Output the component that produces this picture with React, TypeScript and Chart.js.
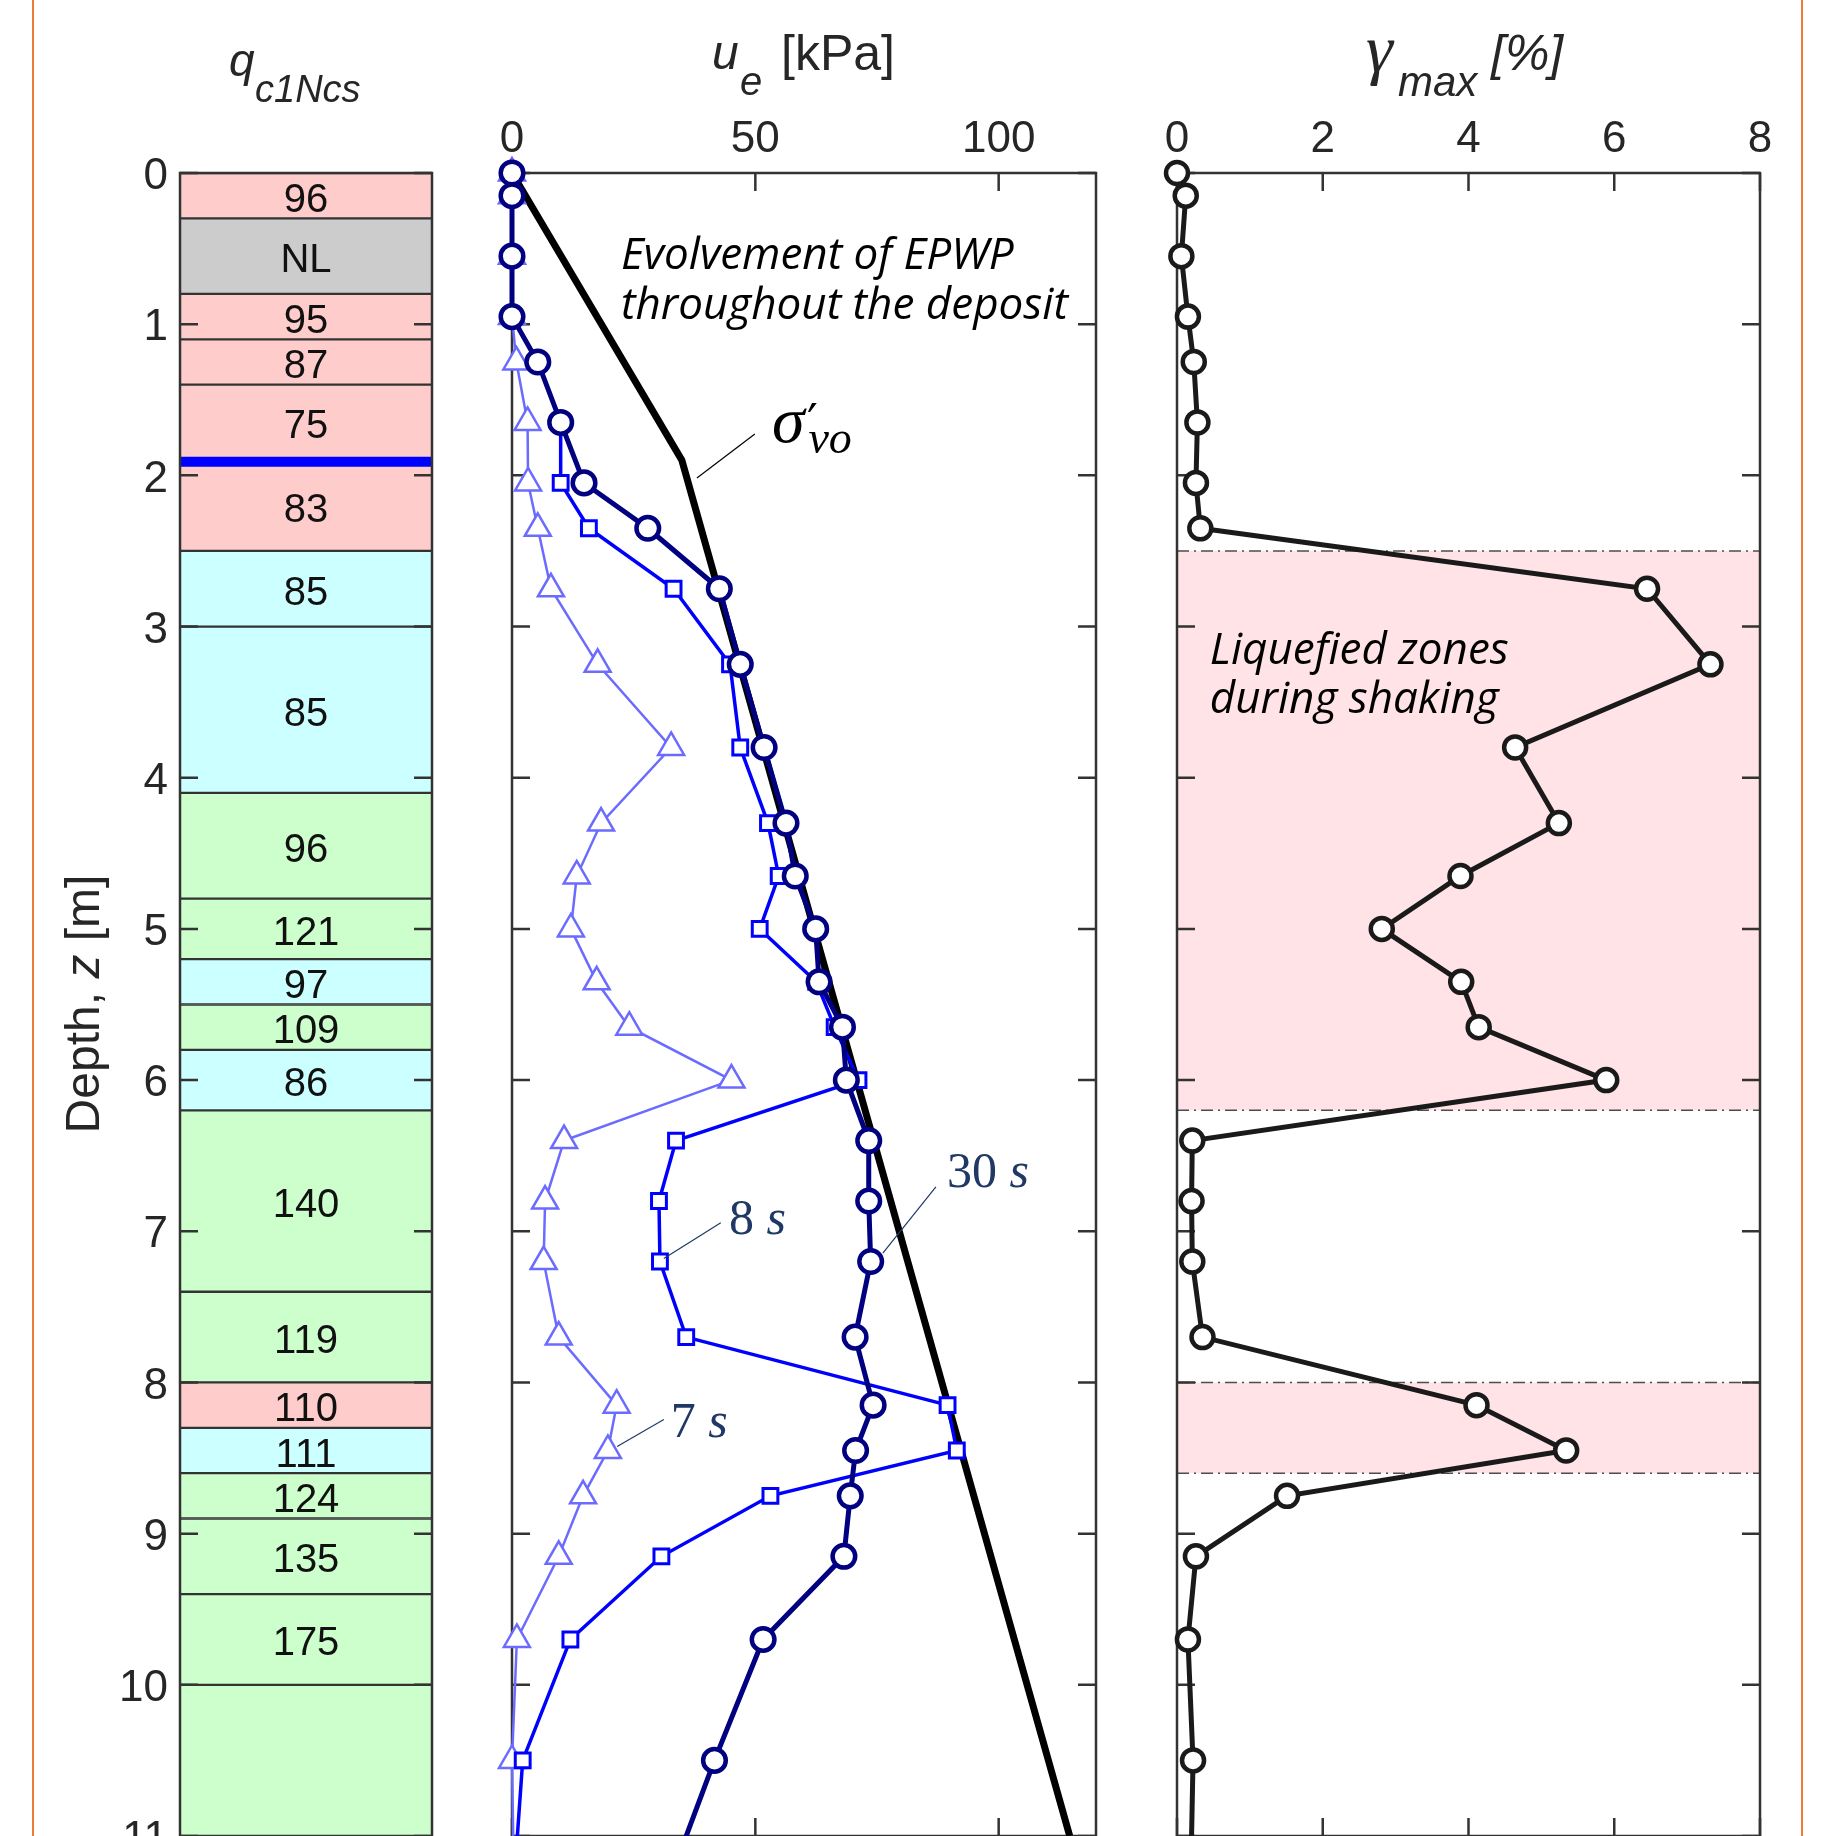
import React, { useEffect, useRef } from 'react';
import { Chart, registerables } from 'chart.js';

Chart.register(...registerables);

// ---------------- data ----------------
const DEPTH_TICKS = [0, 1, 2, 3, 4, 5, 6, 7, 8, 9, 10, 11];
const UE_TICKS = [0, 50, 100];
const GAMMA_TICKS = [0, 2, 4, 6, 8];

// soil column (q_c1Ncs)
const LAYER_TOP = [0, 0.3, 0.8, 1.1, 1.4, 1.9, 2.5, 3.0, 4.1, 4.8, 5.2, 5.5, 5.8, 6.2, 7.4, 8.0, 8.3, 8.6, 8.9, 9.4, 10.0];
const LAYER_BOTTOM = [0.3, 0.8, 1.1, 1.4, 1.9, 2.5, 3.0, 4.1, 4.8, 5.2, 5.5, 5.8, 6.2, 7.4, 8.0, 8.3, 8.6, 8.9, 9.4, 10.0, 11.5];
const LAYER_QC = ['96', 'NL', '95', '87', '75', '83', '85', '85', '96', '121', '97', '109', '86', '140', '119', '110', '111', '124', '135', '175', ''];
const LAYER_CLASS = ['P', 'G', 'P', 'P', 'P', 'P', 'C', 'C', 'V', 'V', 'C', 'V', 'C', 'V', 'V', 'P', 'C', 'V', 'V', 'V', 'V'];
const WATER_TABLE = 1.91;

// sensors
const SENSOR_DEPTH = [0, 0.15, 0.55, 0.95, 1.25, 1.65, 2.05, 2.35, 2.75, 3.25, 3.8, 4.3, 4.65, 5.0, 5.35, 5.65, 6.0, 6.4, 6.8, 7.2, 7.7, 8.15, 8.45, 8.75, 9.15, 9.7, 10.5, 11.5];
const UE_7S = [0, 0, 0, 0, 0.9, 3.2, 3.3, 5.3, 8.0, 17.6, 32.7, 18.3, 13.3, 12.1, 17.4, 24.1, 45.1, 10.7, 6.8, 6.5, 9.6, 21.5, 19.7, 14.6, 9.6, 1.0, 0, 0.5];
const UE_8S = [0, 0, 0, 0, 5.3, 10.0, 10.0, 15.8, 33.2, 44.8, 46.9, 52.6, 54.8, 50.9, 62.5, 66.3, 71.2, 33.7, 30.2, 30.4, 35.8, 89.5, 91.4, 53.1, 30.7, 12.0, 2.2, 0];
const UE_30S = [0, 0, 0, 0, 5.3, 10.0, 14.8, 27.9, 42.6, 46.9, 51.8, 56.3, 58.2, 62.4, 63.1, 67.9, 68.7, 73.3, 73.3, 73.7, 70.5, 74.2, 70.6, 69.5, 68.2, 51.6, 41.6, 30.0];
const SIGMA_DEPTH = [0, 1.9, 11];
const SIGMA_VO = [0, 34.9, 114.6];
const GAMMA_MAX = [0, 0.12, 0.06, 0.15, 0.23, 0.28, 0.26, 0.32, 6.45, 7.32, 4.64, 5.24, 3.89, 2.81, 3.9, 4.14, 5.89, 0.21, 0.2, 0.21, 0.35, 4.11, 5.34, 1.51, 0.26, 0.15, 0.22, 0.18];
const LIQ_TOP = [2.5, 8.0];
const LIQ_BOTTOM = [6.2, 8.6];

// ---------------- styles ----------------
const W = 1829;
const H = 1836;
const CLASS_COLOR: Record<string, string> = { P: '#FFCCCC', G: '#CCCCCC', C: '#CCFFFF', V: '#CCFFCC' };
const AXIS = '#333333';
const TXT = '#262626';
const NAVY_TXT = '#1F3864';
const ORANGE = '#ED7D31';
const TICK = 18;
const SANS = "'Liberation Sans', Arial, sans-serif";
const SERIF = "'Liberation Serif', 'Times New Roman', serif";
const OPEN = "'Open Sans', 'Noto Sans', sans-serif";
const TICK_FONT = { family: SANS, size: 44 };

Chart.defaults.font.family = SANS;

const A_OFF = 0;
const B_OFF = 440;
const C_OFF = 1140;
const A_W = 460;
const B_W = 700;
const C_W = W - C_OFF;

function drawFrame(chart: any, xTicks: number[] | null, yTicks: number[]) {
  const { ctx, chartArea: a, scales } = chart;
  ctx.save();
  ctx.strokeStyle = AXIS;
  ctx.lineWidth = 2.5;
  ctx.setLineDash([]);
  ctx.beginPath();
  for (const v of yTicks) {
    const p = scales.y.getPixelForValue(v);
    ctx.moveTo(a.left, p);
    ctx.lineTo(a.left + TICK, p);
    ctx.moveTo(a.right, p);
    ctx.lineTo(a.right - TICK, p);
  }
  if (xTicks) {
    for (const v of xTicks) {
      const p = scales.x.getPixelForValue(v);
      ctx.moveTo(p, a.top);
      ctx.lineTo(p, a.top + TICK);
      ctx.moveTo(p, a.bottom);
      ctx.lineTo(p, a.bottom - TICK);
    }
  }
  ctx.stroke();
  ctx.strokeRect(a.left, a.top, a.right - a.left, a.bottom - a.top);
  ctx.restore();
}

type Seg = { t: string; font: string; x: number; y: number; color?: string };
function drawSegs(ctx: CanvasRenderingContext2D, segs: Seg[]) {
  ctx.save();
  ctx.textAlign = 'left';
  ctx.textBaseline = 'alphabetic';
  for (const s of segs) {
    ctx.font = s.font;
    ctx.fillStyle = s.color || TXT;
    ctx.fillText(s.t, s.x, s.y);
  }
  ctx.restore();
}

function orangeLine(ctx: CanvasRenderingContext2D, x: number) {
  ctx.save();
  ctx.strokeStyle = ORANGE;
  ctx.lineWidth = 2;
  ctx.beginPath();
  ctx.moveTo(x, 0);
  ctx.lineTo(x, H);
  ctx.stroke();
  ctx.restore();
}

const baseOptions = {
  responsive: false,
  animation: false as const,
  devicePixelRatio: 1,
  events: [] as any[],
  plugins: { legend: { display: false }, tooltip: { enabled: false } },
};

const depthTicks = (scale: any) => {
  scale.ticks = DEPTH_TICKS.map((v) => ({ value: v }));
};
const noPad = (s: any) => {
  s.paddingTop = 0;
  s.paddingBottom = 0;
  s.paddingLeft = 0;
  s.paddingRight = 0;
};

function makeColumn(canvas: HTMLCanvasElement) {
  const plugin = {
    id: 'column',
    afterDatasetsDraw(chart: any) {
      const { ctx, chartArea: a, scales } = chart;
      // water table
      const wy = scales.y.getPixelForValue(WATER_TABLE);
      ctx.save();
      ctx.fillStyle = '#0000FF';
      ctx.fillRect(a.left, wy - 5, a.right - a.left, 10);
      // layer labels
      ctx.font = `40px ${SANS}`;
      ctx.fillStyle = '#111111';
      ctx.textAlign = 'center';
      ctx.textBaseline = 'middle';
      const cx = (a.left + a.right) / 2;
      LAYER_QC.forEach((lab, i) => {
        if (!lab) return;
        const y = (scales.y.getPixelForValue(LAYER_TOP[i]) + scales.y.getPixelForValue(LAYER_BOTTOM[i])) / 2 + 5;
        ctx.fillText(lab, cx, y);
      });
      ctx.restore();
      drawFrame(chart, null, DEPTH_TICKS);
    },
    afterDraw(chart: any) {
      const { ctx } = chart;
      drawSegs(ctx, [
        { t: 'q', font: `italic 46px ${SANS}`, x: 229 - A_OFF, y: 76 },
        { t: 'c1Ncs', font: `italic 38px ${SANS}`, x: 255 - A_OFF, y: 102 },
      ]);
      // depth label (rotated)
      ctx.save();
      ctx.translate(99 - A_OFF, 1004);
      ctx.rotate(-Math.PI / 2);
      ctx.textBaseline = 'alphabetic';
      ctx.fillStyle = TXT;
      const parts = [
        { t: 'Depth, ', f: `48px ${SANS}` },
        { t: 'z', f: `italic 48px ${SANS}` },
        { t: ' [m]', f: `48px ${SANS}` },
      ];
      let total = 0;
      for (const p of parts) {
        ctx.font = p.f;
        total += ctx.measureText(p.t).width;
      }
      let x = -total / 2;
      for (const p of parts) {
        ctx.font = p.f;
        ctx.fillText(p.t, x, 0);
        x += ctx.measureText(p.t).width;
      }
      ctx.restore();
      orangeLine(ctx, 33 - A_OFF);
    },
  };

  return new Chart(canvas, {
    type: 'bar',
    data: {
      labels: ['q'],
      datasets: [
        {
          data: LAYER_TOP.map((t, i) => ({ x: 'q', y: [t, LAYER_BOTTOM[i]] })) as any,
          backgroundColor: LAYER_CLASS.map((c) => CLASS_COLOR[c]),
          borderColor: '#333333',
          borderWidth: { top: 1.5, bottom: 1.5, left: 0, right: 0 },
          borderSkipped: false,
          barPercentage: 1,
          categoryPercentage: 1,
        },
      ],
    },
    options: {
      ...baseOptions,
      layout: { autoPadding: false, padding: { left: 0, right: A_W - 432, top: 173, bottom: 0 } },
      scales: {
        x: { type: 'category', display: false },
        y: {
          type: 'linear',
          position: 'left',
          min: 0,
          max: 11,
          reverse: true,
          afterBuildTicks: depthTicks,
          afterFit: (s: any) => {
            s.width = 180;
            noPad(s);
          },
          grid: { display: false, drawTicks: false },
          border: { display: false },
          ticks: { font: TICK_FONT, color: TXT, padding: 12, labelOffset: 4, autoSkip: false },
        },
      },
    } as any,
    plugins: [plugin],
  });
}

function makeEpwp(canvas: HTMLCanvasElement) {
  const plugin = {
    id: 'epwp',
    beforeDatasetsDraw(chart: any) {
      drawFrame(chart, UE_TICKS, DEPTH_TICKS);
    },
    afterDatasetsDraw(chart: any) {
      const { ctx, scales } = chart;
      const X = (v: number) => scales.x.getPixelForValue(v);
      const Y = (v: number) => scales.y.getPixelForValue(v);
      drawSegs(ctx, [
        { t: 'Evolvement of EPWP', font: `italic 44px ${OPEN}`, x: X(22.4), y: Y(0.635), color: '#000' },
        { t: 'throughout the deposit', font: `italic 44px ${OPEN}`, x: X(22.4), y: Y(0.965), color: '#000' },
        { t: 'σ', font: `italic 66px ${SERIF}`, x: X(53.4), y: Y(1.779), color: '#000' },
        { t: '′', font: `48px 'DejaVu Serif', serif`, x: X(60.6), y: Y(1.76), color: '#000' },
        { t: 'vo', font: `italic 46px ${SERIF}`, x: X(60.9), y: Y(1.852), color: '#000' },
        { t: '30 ', font: `50px ${SERIF}`, x: X(89.4), y: Y(6.707), color: NAVY_TXT },
        { t: '8 ', font: `50px ${SERIF}`, x: X(44.6), y: Y(7.018), color: NAVY_TXT },
        { t: '7 ', font: `50px ${SERIF}`, x: X(32.6), y: Y(8.36), color: NAVY_TXT },
      ]);
      ctx.save();
      ctx.font = `50px ${SERIF}`;
      const w30 = ctx.measureText('30 ').width;
      const w8 = ctx.measureText('8 ').width;
      ctx.restore();
      drawSegs(ctx, [
        { t: 's', font: `italic 50px ${SERIF}`, x: X(89.4) + w30, y: Y(6.707), color: NAVY_TXT },
        { t: 's', font: `italic 50px ${SERIF}`, x: X(44.6) + w8, y: Y(7.018), color: NAVY_TXT },
        { t: 's', font: `italic 50px ${SERIF}`, x: X(32.6) + w8, y: Y(8.36), color: NAVY_TXT },
      ]);
      const leader = (x1: number, y1: number, x2: number, y2: number, c: string) => {
        ctx.save();
        ctx.strokeStyle = c;
        ctx.lineWidth = 1.2;
        ctx.beginPath();
        ctx.moveTo(X(x1), Y(y1));
        ctx.lineTo(X(x2), Y(y2));
        ctx.stroke();
        ctx.restore();
      };
      leader(49.9, 1.726, 38.0, 2.018, '#000');
      leader(87.1, 6.707, 76.2, 7.144, NAVY_TXT);
      leader(42.9, 6.943, 31.2, 7.18, NAVY_TXT);
      leader(31.2, 8.245, 21.6, 8.423, NAVY_TXT);
    },
    afterDraw(chart: any) {
      drawSegs(chart.ctx, [
        { t: 'u', font: `italic 48px ${SANS}`, x: 712 - B_OFF, y: 69 },
        { t: 'e', font: `italic 40px ${SANS}`, x: 740 - B_OFF, y: 95 },
        { t: '[kPa]', font: `50px ${SANS}`, x: 781 - B_OFF, y: 70 },
      ]);
    },
  };

  const pts = (vals: number[], depths: number[]) => vals.map((v, i) => ({ x: v, y: depths[i] }));

  return new Chart(canvas, {
    type: 'scatter',
    data: {
      datasets: [
        {
          label: "σ'vo",
          data: pts(SIGMA_VO, SIGMA_DEPTH),
          showLine: true,
          borderColor: '#000000',
          borderWidth: 7,
          pointRadius: 0,
          order: 4,
          clip: false,
        },
        {
          label: '7 s',
          data: pts(UE_7S, SENSOR_DEPTH),
          showLine: true,
          borderColor: '#6B6BFF',
          borderWidth: 2.5,
          pointStyle: 'triangle',
          pointRadius: 15,
          pointBorderWidth: 2.5,
          pointBorderColor: '#6B6BFF',
          pointBackgroundColor: '#FFFFFF',
          order: 3,
          clip: false,
        },
        {
          label: '8 s',
          data: pts(UE_8S, SENSOR_DEPTH),
          showLine: true,
          borderColor: '#0000FF',
          borderWidth: 3.5,
          pointStyle: 'rect',
          pointRadius: 10.5,
          pointBorderWidth: 3,
          pointBorderColor: '#0000FF',
          pointBackgroundColor: '#FFFFFF',
          order: 2,
          clip: false,
        },
        {
          label: '30 s',
          data: pts(UE_30S, SENSOR_DEPTH),
          showLine: true,
          borderColor: '#000080',
          borderWidth: 5,
          pointStyle: 'circle',
          pointRadius: 11.3,
          pointBorderWidth: 4.5,
          pointBorderColor: '#000080',
          pointBackgroundColor: '#FFFFFF',
          order: 1,
          clip: false,
        },
      ],
    },
    options: {
      ...baseOptions,
      layout: { autoPadding: false, padding: { left: 512 - B_OFF, right: B_OFF + B_W - 1096, top: 0, bottom: 0 } },
      scales: {
        x: {
          type: 'linear',
          position: 'top',
          min: 0,
          max: 120,
          afterBuildTicks: (s: any) => {
            s.ticks = UE_TICKS.map((v) => ({ value: v }));
          },
          afterFit: (s: any) => {
            s.height = 173;
            noPad(s);
          },
          grid: { display: false, drawTicks: false },
          border: { display: false },
          ticks: { font: TICK_FONT, color: TXT, padding: 7, autoSkip: false, maxRotation: 0 },
        },
        y: { type: 'linear', display: false, min: 0, max: 11, reverse: true, afterFit: noPad },
      },
    } as any,
    plugins: [plugin],
  });
}

function makeGamma(canvas: HTMLCanvasElement) {
  const plugin = {
    id: 'gamma',
    beforeDatasetsDraw(chart: any) {
      const { ctx, chartArea: a, scales } = chart;
      ctx.save();
      LIQ_TOP.forEach((t, i) => {
        const y1 = scales.y.getPixelForValue(t);
        const y2 = scales.y.getPixelForValue(LIQ_BOTTOM[i]);
        ctx.fillStyle = '#FFE3E6';
        ctx.fillRect(a.left, y1, a.right - a.left, y2 - y1);
        ctx.strokeStyle = '#4D4D4D';
        ctx.lineWidth = 1.5;
        ctx.setLineDash([12, 5, 2, 5]);
        ctx.beginPath();
        ctx.moveTo(a.left, y1);
        ctx.lineTo(a.right, y1);
        ctx.moveTo(a.left, y2);
        ctx.lineTo(a.right, y2);
        ctx.stroke();
      });
      ctx.restore();
      drawFrame(chart, GAMMA_TICKS, DEPTH_TICKS);
    },
    afterDatasetsDraw(chart: any) {
      const { ctx, scales } = chart;
      const X = (v: number) => scales.x.getPixelForValue(v);
      const Y = (v: number) => scales.y.getPixelForValue(v);
      drawSegs(ctx, [
        { t: 'Liquefied zones', font: `italic 44px ${OPEN}`, x: X(0.45), y: Y(3.245), color: '#000' },
        { t: 'during shaking', font: `italic 44px ${OPEN}`, x: X(0.45), y: Y(3.575), color: '#000' },
      ]);
    },
    afterDraw(chart: any) {
      const { ctx } = chart;
      drawSegs(ctx, [
        { t: 'γ', font: `italic 68px ${SERIF}`, x: 1366 - C_OFF, y: 72 },
        { t: 'max', font: `italic 42px ${SANS}`, x: 1398 - C_OFF, y: 96 },
        { t: '[%]', font: `italic 50px ${SANS}`, x: 1491 - C_OFF, y: 70 },
      ]);
      orangeLine(ctx, 1802 - C_OFF);
    },
  };

  return new Chart(canvas, {
    type: 'scatter',
    data: {
      datasets: [
        {
          label: 'gamma max',
          data: GAMMA_MAX.map((v, i) => ({ x: v, y: SENSOR_DEPTH[i] })),
          showLine: true,
          borderColor: '#1A1A1A',
          borderWidth: 5,
          pointStyle: 'circle',
          pointRadius: 11,
          pointBorderWidth: 4.5,
          pointBorderColor: '#1A1A1A',
          pointBackgroundColor: '#FFFFFF',
          clip: false,
        },
      ],
    },
    options: {
      ...baseOptions,
      layout: { autoPadding: false, padding: { left: 1177 - C_OFF, right: C_OFF + C_W - 1760, top: 0, bottom: 0 } },
      scales: {
        x: {
          type: 'linear',
          position: 'top',
          min: 0,
          max: 8,
          afterBuildTicks: (s: any) => {
            s.ticks = GAMMA_TICKS.map((v) => ({ value: v }));
          },
          afterFit: (s: any) => {
            s.height = 173;
            noPad(s);
          },
          grid: { display: false, drawTicks: false },
          border: { display: false },
          ticks: { font: TICK_FONT, color: TXT, padding: 7, autoSkip: false, maxRotation: 0 },
        },
        y: { type: 'linear', display: false, min: 0, max: 11, reverse: true, afterFit: noPad },
      },
    } as any,
    plugins: [plugin],
  });
}

export default function App() {
  const refA = useRef<HTMLCanvasElement>(null);
  const refB = useRef<HTMLCanvasElement>(null);
  const refC = useRef<HTMLCanvasElement>(null);

  useEffect(() => {
    const charts = [makeColumn(refA.current!), makeEpwp(refB.current!), makeGamma(refC.current!)];
    return () => charts.forEach((c) => c.destroy());
  }, []);

  const cs = (left: number, width: number): React.CSSProperties => ({
    position: 'absolute',
    left,
    top: 0,
    width,
    height: H,
    display: 'block',
  });

  return (
    <div style={{ position: 'absolute', left: 0, top: 0, width: W, height: H, background: '#FFFFFF', overflow: 'hidden' }}>
      <canvas ref={refA} width={A_W} height={H} style={cs(A_OFF, A_W)} />
      <canvas ref={refB} width={B_W} height={H} style={cs(B_OFF, B_W)} />
      <canvas ref={refC} width={C_W} height={H} style={cs(C_OFF, C_W)} />
    </div>
  );
}
